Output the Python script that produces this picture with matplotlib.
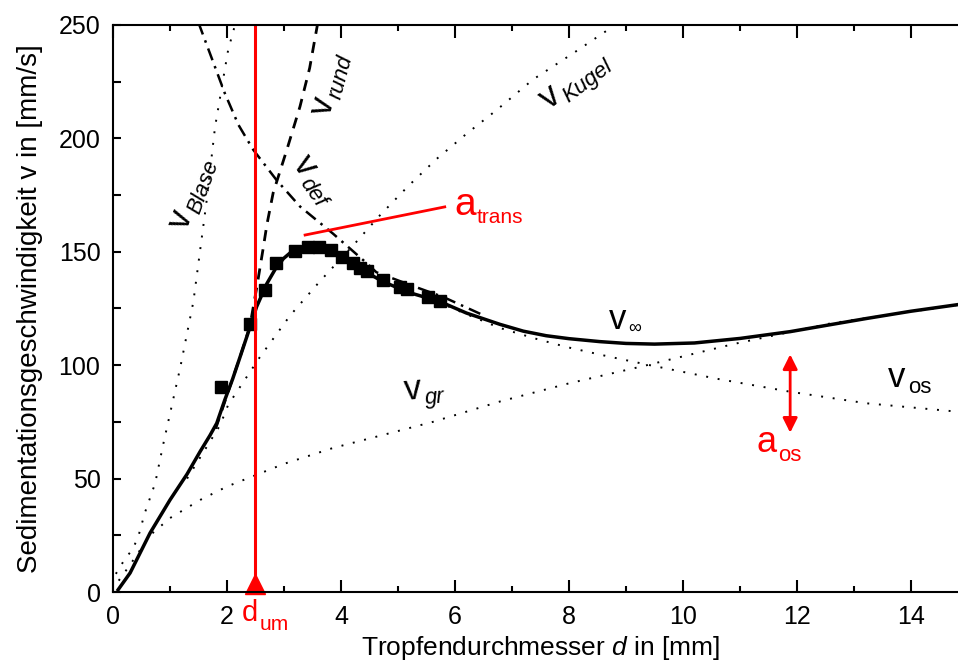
import matplotlib
matplotlib.use("Agg")
import matplotlib.pyplot as plt
import numpy as np

plt.rcParams['font.family'] = ['Liberation Sans', 'DejaVu Sans']
plt.rcParams['mathtext.fontset'] = 'custom'
plt.rcParams['mathtext.rm'] = 'Liberation Sans'
plt.rcParams['mathtext.it'] = 'Liberation Sans:italic'

# measured drop velocities
d_meas = [1.90, 2.40, 2.67, 2.86, 3.20, 3.42, 3.62, 3.83, 4.02, 4.21, 4.34, 4.45,
          4.74, 5.04, 5.15, 5.53, 5.74]
v_meas = [90.5, 118, 133, 145, 150.5, 152, 152, 151, 147.5, 145, 143, 141.5,
          137.5, 134.5, 133.5, 130, 128.5]

# v_inf (solid)
d_inf = [0.09, 0.3, 0.65, 1.0, 1.3, 1.53, 1.7, 1.82, 1.96, 2.1, 2.23, 2.38, 2.52, 2.70,
         2.85, 2.99, 3.13, 3.28, 3.42, 3.57, 3.75, 3.92, 4.3, 4.74, 5.2, 5.74, 6.2, 6.79,
         7.2, 7.6, 8.0, 8.54, 9.0, 9.5, 10.2, 11.0, 11.88, 12.5, 13.22, 14.0, 14.82, 15.0]
v_inf = [1, 8.4, 26, 40.6, 52, 62, 69, 74.4, 84.6, 94, 103.7, 115, 125.8, 136,
         142.5, 147, 150, 151.5, 152.2, 152.2, 151, 149.3, 143, 136.8, 132, 128, 123, 118,
         115, 113, 111.7, 110.4, 109.6, 109.3, 109.8, 111.8, 114.8, 117.5, 120.6, 123.8, 126.7, 127.5]

# v_Blase (dotted)
d_blase = [0.05, 0.21, 0.35, 0.45, 0.56, 0.74, 0.88, 1.03, 1.18, 1.41, 1.64, 1.79, 2.02, 2.14]
v_blase = [8, 14.6, 19, 25, 35, 48, 65, 82, 99, 128, 172, 205, 239, 250]

# v_gr (dotted)
d_gr = [0.1, 0.3, 0.65, 1.0, 1.53, 2.0, 2.35, 3.0, 3.86, 4.7, 5.61, 6.79, 8.0, 9.25,
        10.9, 12.6, 14.8, 15.0]
v_gr = [5, 12, 25, 32.6, 40.6, 46.5, 50, 56.5, 63.5, 69, 75, 84, 92, 99.3,
        109.4, 118.5, 126.5, 127.5]

# v_Kugel (dotted)
d_kugel = [1.3, 1.88, 2.02, 2.58, 3.11, 3.63, 4.22, 4.68, 5.18, 5.68, 6.2, 6.73, 7.37, 8.1, 8.75]
v_kugel = [50, 73.6, 82.5, 103.7, 122, 137, 153, 166, 179, 191, 202, 212.5, 226, 238, 249]

# v_os (dotted)
d_os = [5.5, 6.2, 6.79, 7.4, 7.96, 8.7, 9.42, 10.6, 11.88, 13.22, 14.82, 15.0]
v_os = [130, 122.5, 116.4, 111.8, 108, 103.8, 100, 94, 88.3, 83.2, 79.5, 79]

# v_def (dash-dot)
d_def = [1.5, 1.96, 2.2, 2.46, 2.87, 3.28, 3.86, 4.45, 4.62, 5.21, 5.8, 6.5]
v_def = [251, 220, 206, 195, 181.6, 170, 158, 145, 141, 135.4, 130, 122]

# v_rund (dashed)
d_rund = [1.8, 2.05, 2.23, 2.40, 2.52, 2.63, 2.70, 2.81, 3.05, 3.28, 3.45, 3.6]
v_rund = [72, 90.5, 103.7, 117, 134, 150.8, 162, 176, 195, 214, 231, 252]

d_um = 2.49
a_trans_d = [3.37, 5.82]
a_trans_v = [157.4, 169.8]
a_os_d = 11.88
a_os_v = [106, 69]

fig = plt.figure(figsize=(9.58, 6.65), dpi=100)
ax = fig.add_axes([113 / 958, 1 - 592 / 665, 855 / 958, 567 / 665])

dot = (0, (1, 5))
ax.plot(d_blase, v_blase, color='black', lw=1.4, ls=dot)
ax.plot(d_gr, v_gr, color='black', lw=1.4, ls=dot)
ax.plot(d_kugel, v_kugel, color='black', lw=1.4, ls=dot)
ax.plot(d_os, v_os, color='black', lw=1.4, ls=dot)
ax.plot(d_def, v_def, color='black', lw=1.8, ls=(0, (5, 2.5, 1, 2.5)))
ax.plot(d_rund, v_rund, color='black', lw=2, ls=(0, (4, 3)))
ax.plot(d_inf, v_inf, color='black', lw=2.5, solid_joinstyle='round')
ax.plot(d_meas, v_meas, ls='none', marker='s', ms=9, color='black')

# red annotations
ax.axvline(d_um, color='red', lw=2.2)
ax.plot([d_um], [3.5], marker='^', ms=15, color='red', clip_on=False)
ax.plot(a_trans_d, a_trans_v, color='red', lw=2)
ax.annotate('', xy=(a_os_d, a_os_v[1]), xytext=(a_os_d, a_os_v[0]),
            arrowprops=dict(arrowstyle='<|-|>', color='red', lw=2, mutation_scale=22))


def label(x, y, main, sub, rot=0, color='black', size=25, subsize=16,
          off=(8, -7), italic=False, transform=None):
    tr = ax.transData if transform is None else transform
    ax.text(x, y, main, fontsize=size, color=color, rotation=rot,
            rotation_mode='anchor', ha='center', va='center', transform=tr,
            clip_on=False)
    r = np.deg2rad(rot)
    dx = off[0] * np.cos(r) - off[1] * np.sin(r)
    dy = off[0] * np.sin(r) + off[1] * np.cos(r)
    ax.annotate(sub, xy=(x, y), xycoords=tr, xytext=(dx, dy), textcoords='offset points',
                fontsize=subsize, color=color, rotation=rot, rotation_mode='anchor',
                ha='left', va='center', style='italic' if italic else 'normal',
                annotation_clip=False)


label(1.20, 164, 'v', 'Blase', rot=70, italic=True)
label(3.68, 214, 'v', 'rund', rot=75, italic=True)
label(3.37, 188, 'v', 'def', rot=-55, italic=True)
label(7.67, 218, 'v', 'Kugel', rot=37, italic=True)
label(5.26, 89, 'v', 'gr', rot=5, italic=True)
label(8.86, 120, 'v', '\u221e', subsize=13, off=(7, -6))
label(13.75, 94.4, 'v', 'os')
label(6.18, 170.6, 'a', 'trans', color='red', size=28, subsize=15, off=(8, -9))
label(11.47, 65.7, 'a', 'os', color='red', size=26, subsize=16, off=(8, -9))
label(2.40, -0.037, 'd', 'um', color='red', size=21, subsize=15, off=(7, -8),
      transform=ax.get_xaxis_transform())

ax.set_xlim(0, 15)
ax.set_ylim(0, 250)
ax.set_xticks(np.arange(0, 15, 2))
ax.set_xticks(np.arange(1, 15, 2), minor=True)
ax.set_yticks(np.arange(0, 251, 50))
ax.set_yticks(np.arange(25, 250, 50), minor=True)
ax.tick_params(which='both', direction='in', top=True, right=True, width=1.5, labelsize=18)
ax.tick_params(which='major', axis='x', length=9, pad=9)
ax.tick_params(which='minor', axis='x', length=4.5)
ax.tick_params(which='both', axis='y', length=5.5, pad=9)
for s in ax.spines.values():
    s.set_linewidth(1.5)

ax.set_xlabel(r'Tropfendurchmesser $d$ in [mm]', fontsize=19, labelpad=4)
ax.set_ylabel('Sedimentationsgeschwindigkeit v in [mm/s]', fontsize=20, labelpad=11)

fig.savefig('out.png', dpi=100)
